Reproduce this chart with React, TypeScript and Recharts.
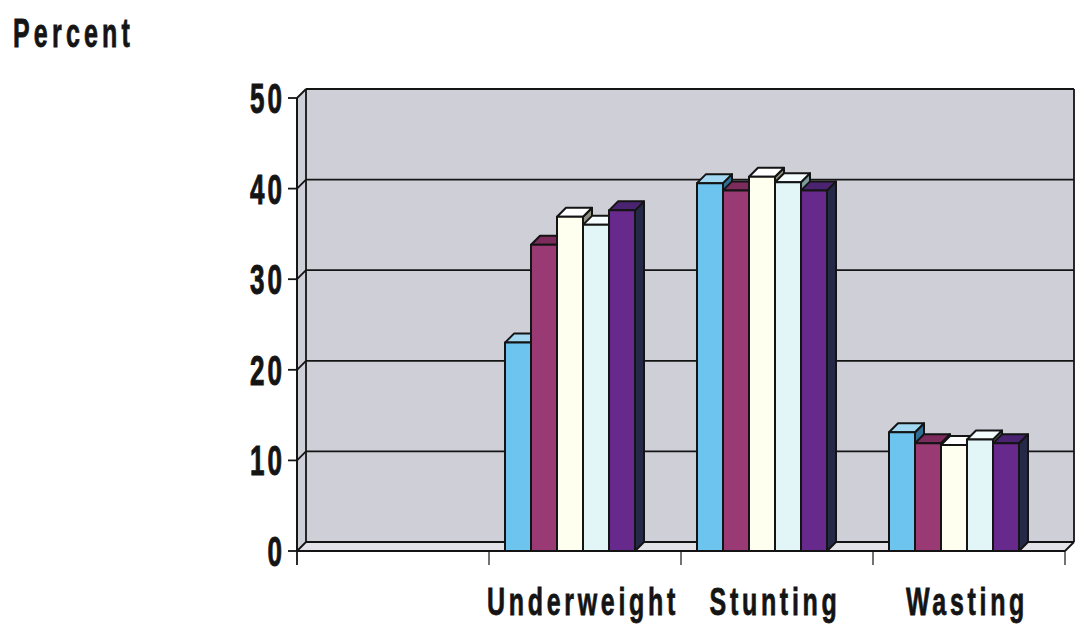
import React from "react";
import {
  Bar,
  BarChart,
  CartesianGrid,
  ReferenceArea,
  XAxis,
  YAxis,
} from "recharts";

// カテゴリ（先頭は空の区画）
const categories = ["", "Underweight", "Stunting", "Wasting"];

// 系列ごとの割合（%）
const series1 = [null, 23, 40.6, 13.1];
const series2 = [null, 33.8, 39.8, 11.9];
const series3 = [null, 36.9, 41.3, 11.7];
const series4 = [null, 36, 40.7, 12.3];
const series5 = [null, 37.6, 39.8, 11.9];

const yTicks = [0, 10, 20, 30, 40, 50];

// 3D 表現の奥行き（px）
const DX = 9;
const DY = 9;
// 棒グループを奥行き分だけ左へ寄せる
const SHIFT = -15;

const FONT = "'Liberation Sans', Arial, sans-serif";
const WALL = "#cfcfd8";
const INK = "#141414";

// 前面・上面・側面の色
const colors = [
  { front: "#6cc4ef", top: "#a2d8f2", side: "#2f6f96" },
  { front: "#993a74", top: "#7b2b5c", side: "#4e1a3a" },
  { front: "#fffff0", top: "#ffffff", side: "#8e8e80" },
  { front: "#e2f6f8", top: "#f4fcfd", side: "#7e9ca0" },
  { front: "#672a8c", top: "#4a2470", side: "#262848" },
];

const data = categories.map((name, i) => ({
  name,
  s1: series1[i],
  s2: series2[i],
  s3: series3[i],
  s4: series4[i],
  s5: series5[i],
}));

const make3DBar = (c: { front: string; top: string; side: string }) =>
  function Bar3D(props: any) {
    const { y, width: w, height: h } = props;
    if (h == null || h <= 0) return <g />;
    const x = props.x + SHIFT;
    return (
      <g stroke={INK} strokeWidth={2} strokeLinejoin="round">
        <polygon
          points={`${x + w},${y} ${x + w + DX},${y - DY} ${x + w + DX},${y + h - DY} ${x + w},${y + h}`}
          fill={c.side}
        />
        <polygon
          points={`${x},${y} ${x + DX},${y - DY} ${x + w + DX},${y - DY} ${x + w},${y}`}
          fill={c.top}
        />
        <rect x={x} y={y} width={w} height={h} fill={c.front} />
      </g>
    );
  };

// 奥の壁・左の壁・床と目盛り線
function Walls(props: any) {
  const { x, y, width: w, height: h } = props;
  const max = yTicks[yTicks.length - 1];
  const bottom = y + h;
  const band = w / categories.length;
  return (
    <g>
      <rect x={x + DX} y={y - DY} width={w} height={h} fill={WALL} />
      <polygon
        points={`${x},${y} ${x + DX},${y - DY} ${x + DX},${bottom - DY} ${x},${bottom}`}
        fill={WALL}
      />
      <polygon
        points={`${x},${bottom} ${x + DX},${bottom - DY} ${x + w + DX},${bottom - DY} ${x + w},${bottom}`}
        fill="#e2e2e8"
      />
      {yTicks.map((v) => {
        const yy = bottom - (v / max) * h;
        return (
          <g key={v} stroke={INK} strokeWidth={1.8} fill="none">
            <line x1={x} y1={yy} x2={x + DX} y2={yy - DY} />
            <line x1={x + DX} y1={yy - DY} x2={x + w + DX} y2={yy - DY} />
          </g>
        );
      })}
      <g stroke={INK} strokeWidth={1.8} fill="none">
        <line x1={x + DX} y1={y - DY} x2={x + DX} y2={bottom - DY} />
        <line x1={x + w + DX} y1={y - DY} x2={x + w + DX} y2={bottom - DY} />
        <line x1={x + w} y1={bottom} x2={x + w + DX} y2={bottom - DY} />
        {categories.map((_, i) => (
          <line
            key={i}
            x1={x + band * (i + 1)}
            y1={bottom}
            x2={x + band * (i + 1)}
            y2={bottom + 14}
            strokeWidth={1.2}
          />
        ))}
        <line x1={x} y1={y} x2={x} y2={bottom + 14} />
      </g>
    </g>
  );
}

function YTick(props: any) {
  const { x, y, payload } = props;
  return (
    <text
      transform={`translate(${x + 3},${y + 15}) scale(1,1.62)`}
      textAnchor="end"
      fontFamily={FONT}
      fontWeight="bold"
      fontSize={26}
      letterSpacing={3}
      fill={INK}
      stroke={INK}
      strokeWidth={0.6}
    >
      {payload.value}
    </text>
  );
}

function XTick(props: any) {
  const { x, y, payload } = props;
  return (
    <text
      transform={`translate(${x - 2},${y + 64}) scale(1,1.55)`}
      textAnchor="middle"
      fontFamily={FONT}
      fontWeight="bold"
      fontSize={25}
      letterSpacing={3.7}
      fill={INK}
      stroke={INK}
      strokeWidth={0.5}
    >
      {payload.value}
    </text>
  );
}

export default function App() {
  return (
    <div
      style={{
        position: "absolute",
        left: 0,
        top: 0,
        width: 1076,
        height: 632,
        background: "#fff",
      }}
    >
      <div
        style={{
          position: "absolute",
          left: 13,
          top: 13,
          fontFamily: FONT,
          fontWeight: "bold",
          fontSize: 25,
          lineHeight: 1,
          letterSpacing: 4.2,
          color: INK,
          WebkitTextStroke: "0.5px #141414",
          transform: "scale(1,1.6)",
          transformOrigin: "0 0",
        }}
      >
        Percent
      </div>
      <BarChart
        width={1076}
        height={632}
        data={data}
        margin={{ top: 98, right: 11, bottom: 21, left: 237 }}
        barGap={0}
        barSize={26}
      >
        <CartesianGrid horizontal={false} vertical={false} />
        <ReferenceArea
          y1={0}
          y2={50}
          ifOverflow="visible"
          shape={(p: any) => <Walls {...p} />}
        />
        <XAxis
          dataKey="name"
          height={60}
          tickLine={false}
          tickSize={0}
          tickMargin={0}
          axisLine={{ stroke: INK, strokeWidth: 1.8 }}
          tick={<XTick />}
          interval={0}
        />
        <YAxis
          domain={[0, 50]}
          ticks={yTicks}
          width={60}
          tickSize={9}
          tickMargin={6}
          axisLine={{ stroke: INK, strokeWidth: 1.8 }}
          tickLine={{ stroke: INK, strokeWidth: 1.8 }}
          tick={<YTick />}
        />
        {(["s1", "s2", "s3", "s4", "s5"] as const).map((key, i) => (
          <Bar
            key={key}
            dataKey={key}
            fill={colors[i].front}
            isAnimationActive={false}
            shape={make3DBar(colors[i])}
          />
        ))}
      </BarChart>
    </div>
  );
}
